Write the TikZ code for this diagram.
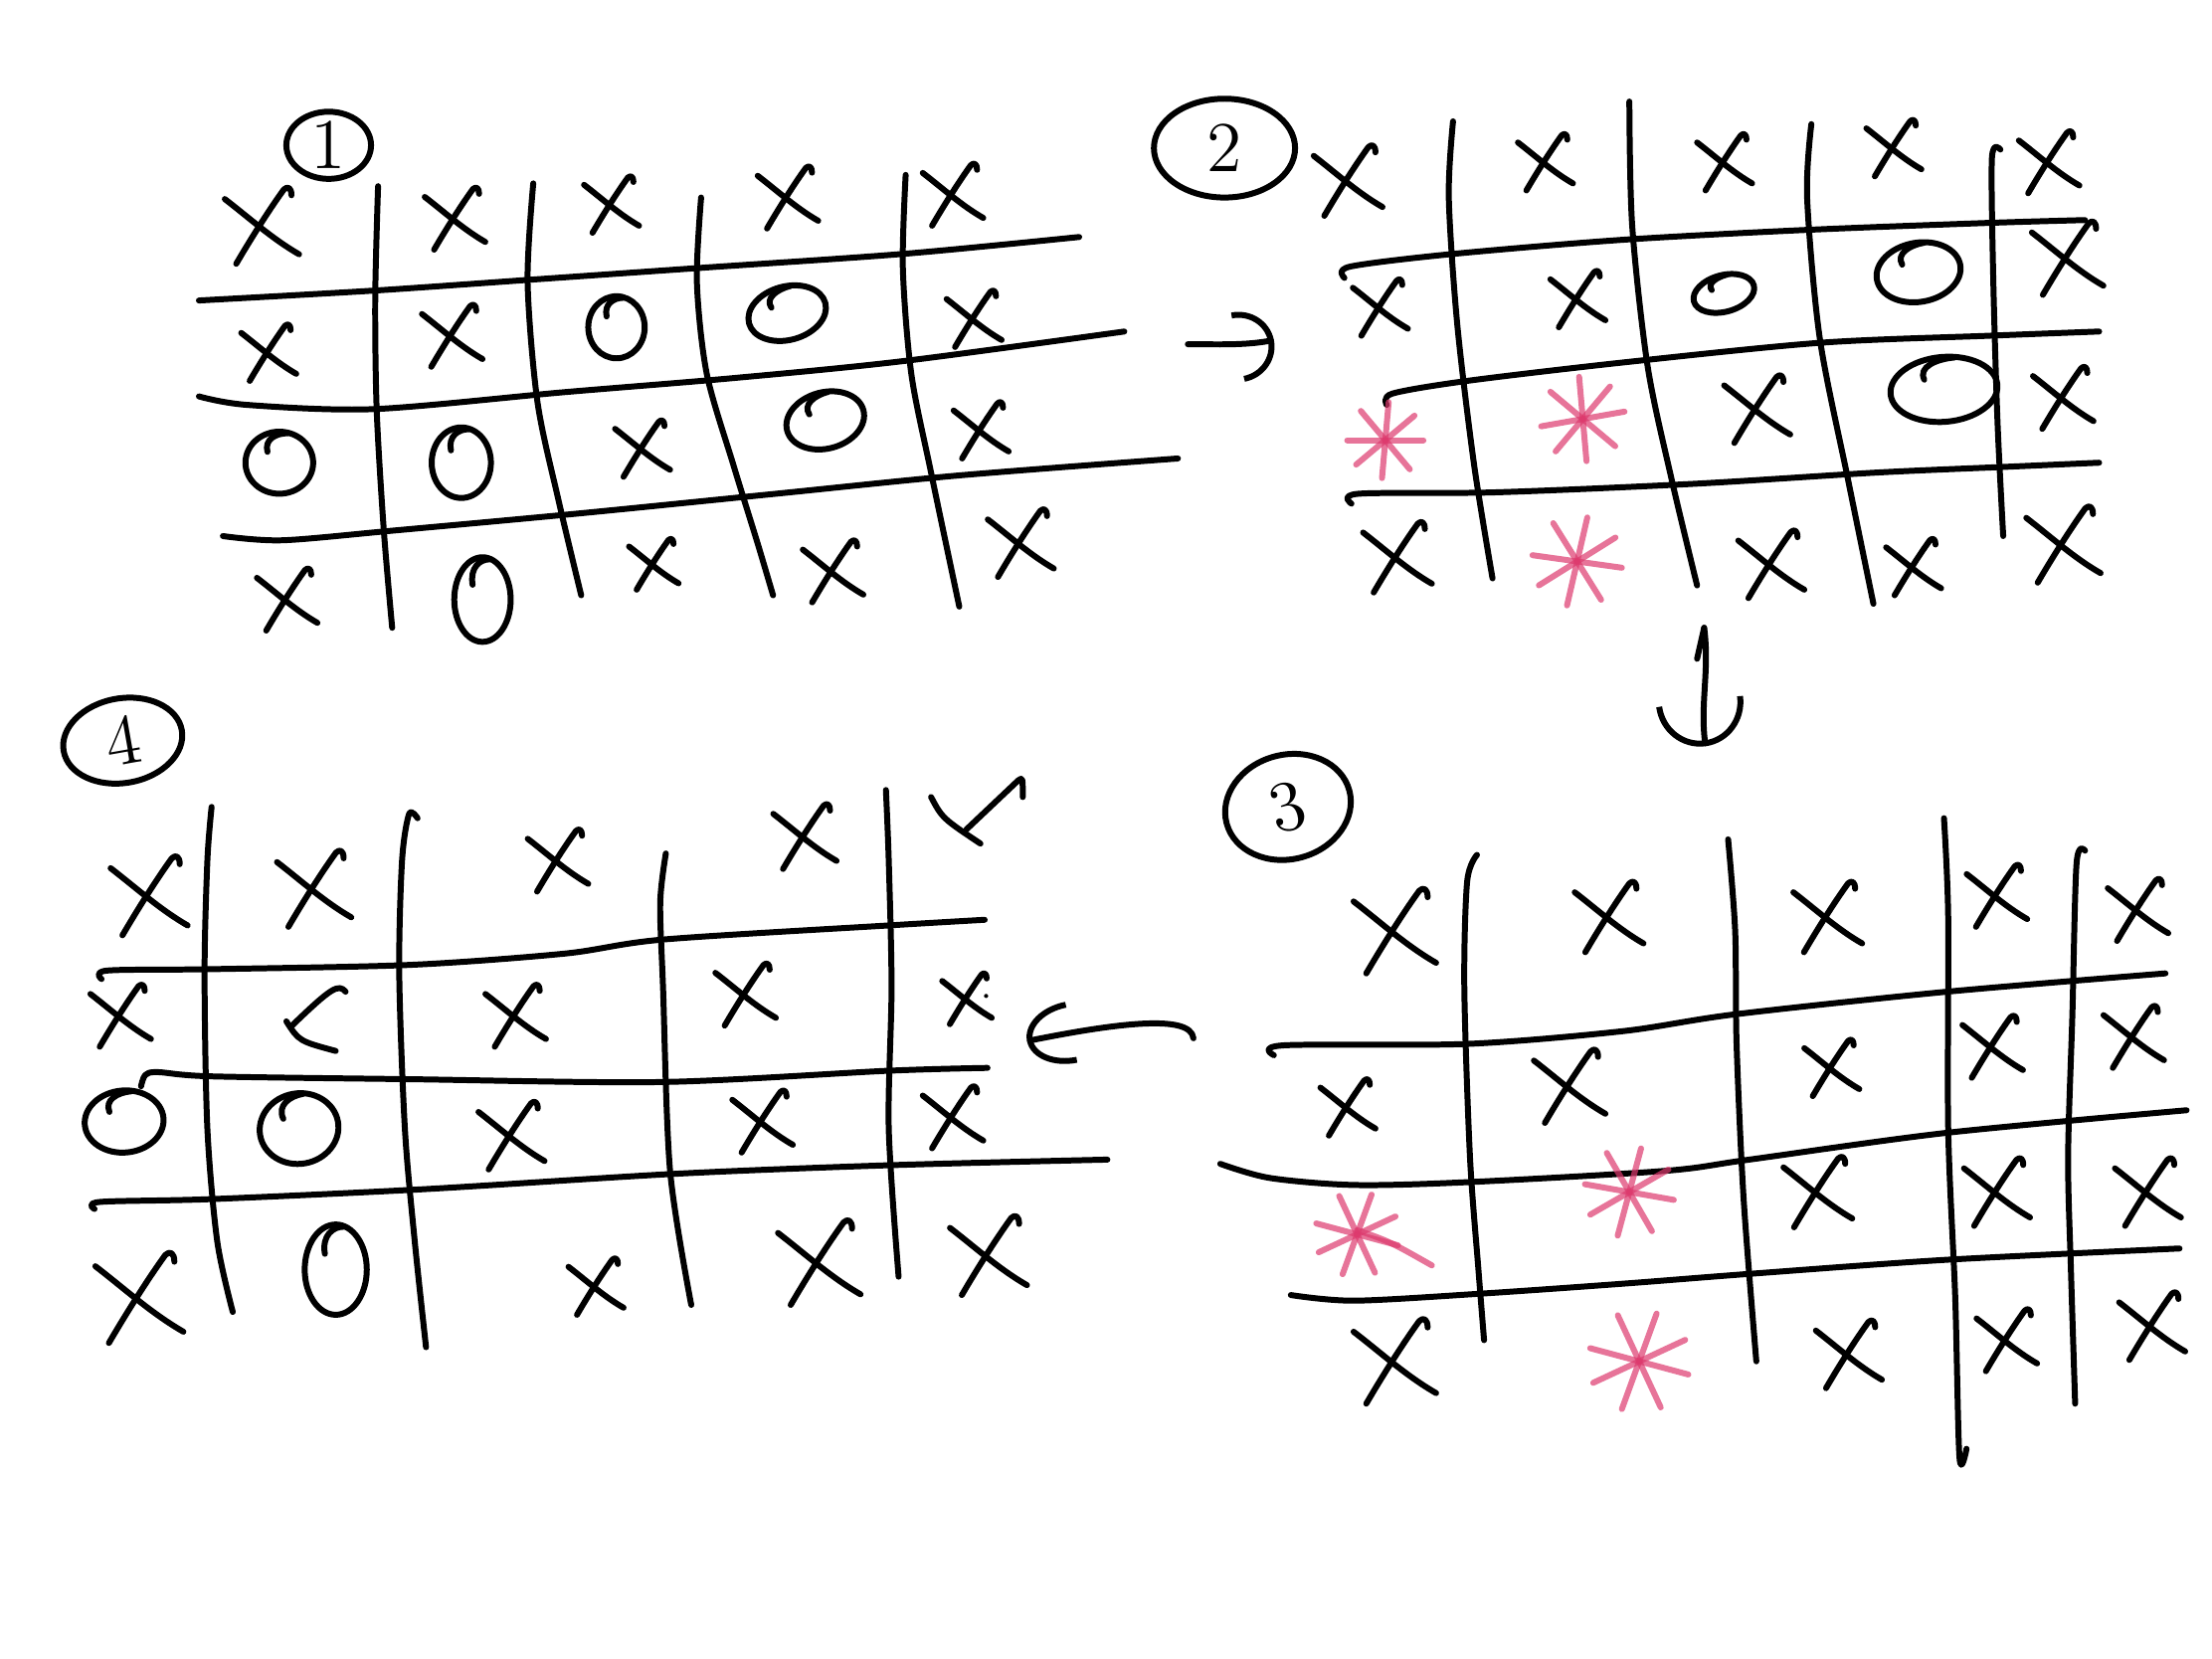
\documentclass[tikz,border=0pt]{standalone}
\usepackage{tikz}
\usetikzlibrary{arrows.meta, shapes.geometric}
\definecolor{inkpink}{RGB}{221,58,110}

\begin{document}
\begin{tikzpicture}[x=0.01cm, y=-0.01cm,
  pen/.style = {line width=1.2pt, line cap=round, line join=round},
  ink/.style = {pen, draw=inkpink, opacity=.7},
  tag/.style = {pen, draw, shape=ellipse, inner sep=0pt, font=\Large},
  xm/.pic = {
    \draw[pen] (-0.95,-0.7) .. controls (-0.3,-0.2) and (0.3,0.35) .. (1,0.75);
    \draw[pen] (-0.65,1) .. controls (-0.3,0.4) and (0.2,-0.4) .. (0.6,-0.95)
      .. controls (0.7,-1.05) and (0.8,-1) .. (0.8,-0.8);
  },
  om/.pic = {
    \draw[pen] (0,0) circle (1);
    \draw[pen] (-0.35,-0.35) .. controls (-0.45,-0.75) and (-0.1,-0.95) .. (0.25,-0.95);
  },
  ast/.pic = {
    \foreach \a in {0,50,95,140}
      \draw[ink] (\a:1) -- (\a+180:1);
  }]
  \fill[white] (0,0) rectangle (1568,1176);
  \useasboundingbox (0,0) rectangle (1568,1176);

  % board 1
  \node[tag, minimum width=0.6cm, minimum height=0.46cm] (t1) at (233,103) {1};
  \draw[pen] plot[smooth] coordinates {(141,213) (265,206) (380,198) (495,190) (640,180) (765,168)};
  \draw[pen] plot[smooth] coordinates {(141,281) (175,287) (265,290) (400,278) (520,268) (640,256) (797,235)};
  \draw[pen] plot[smooth] coordinates {(158,380) (200,383) (280,376) (410,364) (550,350) (680,337) (835,325)};
  \draw[pen] plot[smooth] coordinates {(268,132) (266,210) (267,290) (272,375) (278,445)};
  \draw[pen] plot[smooth] coordinates {(378,130) (374,200) (381,285) (396,355) (412,422)};
  \draw[pen] plot[smooth] coordinates {(497,140) (494,200) (501,265) (520,330) (537,385) (548,422)};
  \draw[pen] plot[smooth] coordinates {(642,124) (640,190) (646,265) (660,335) (680,430)};
  \pic[scale=27] at (185,160) {xm};
  \pic[scale=22] at (322,155) {xm};
  \pic[scale=20] at (433,145) {xm};
  \pic[scale=22] at (558,140) {xm};
  \pic[scale=22] at (675,138) {xm};
  \pic[scale=20] at (190,250) {xm};
  \pic[scale=22] at (320,238) {xm};
  \pic[xscale=20, yscale=22] at (437,232) {om};
  \pic[rotate=15, xscale=28, yscale=19] at (558,222) {om};
  \pic[scale=20] at (690,226) {xm};
  \pic[xscale=24, yscale=22] at (198,328) {om};
  \pic[xscale=21, yscale=25] at (327,328) {om};
  \pic[scale=20] at (455,318) {xm};
  \pic[rotate=15, xscale=28, yscale=20] at (585,298) {om};
  \pic[scale=20] at (695,305) {xm};
  \pic[scale=22] at (203,425) {xm};
  \pic[xscale=20, yscale=30] at (342,425) {om};
  \pic[scale=18] at (463,400) {xm};
  \pic[scale=22] at (590,405) {xm};
  \pic[scale=24] at (723,385) {xm};

  % board 2
  \node[tag, minimum width=1.0cm, minimum height=0.7cm] (t2) at (868,105) {2};
  \draw[pen] plot[smooth] coordinates {(953,197) (957,189) (1030,180) (1150,170) (1280,163) (1410,158) (1478,156)};
  \draw[pen] plot[smooth] coordinates {(983,287) (987,279) (1040,270) (1150,257) (1290,243) (1410,238) (1488,235)};
  \draw[pen] plot[smooth] coordinates {(958,357) (963,350) (1060,349) (1200,343) (1330,335) (1420,331) (1488,328)};
  \draw[pen] plot[smooth] coordinates {(1030,86) (1027,140) (1033,230) (1045,330) (1058,410)};
  \draw[pen] plot[smooth] coordinates {(1155,72) (1157,160) (1168,260) (1185,340) (1203,415)};
  \draw[pen] plot[smooth] coordinates {(1284,88) (1281,140) (1290,240) (1310,340) (1328,428)};
  \draw[pen] plot[smooth] coordinates {(1418,106) (1412,112) (1413,200) (1416,300) (1420,380)};
  \pic[scale=25] at (955,128) {xm};
  \pic[scale=20] at (1095,115) {xm};
  \pic[scale=20] at (1222,115) {xm};
  \pic[scale=20] at (1342,105) {xm};
  \pic[scale=22] at (1452,115) {xm};
  \pic[scale=20] at (978,218) {xm};
  \pic[scale=20] at (1118,212) {xm};
  \pic[rotate=15, xscale=22, yscale=13] at (1222,208) {om};
  \pic[rotate=10, xscale=30, yscale=21] at (1360,193) {om};
  \pic[scale=26] at (1465,183) {xm};
  \pic[scale=27] at (982,312) {ast};
  \pic[scale=30, rotate=10] at (1122,297) {ast};
  \pic[scale=24] at (1245,290) {xm};
  \pic[rotate=5, xscale=38, yscale=23] at (1378,276) {om};
  \pic[scale=22] at (1462,282) {xm};
  \pic[scale=25] at (990,395) {xm};
  \pic[scale=32, rotate=-8] at (1118,398) {ast};
  \pic[scale=24] at (1255,400) {xm};
  \pic[scale=20] at (1356,402) {xm};
  \pic[scale=27] at (1462,386) {xm};

  % board 3
  \node[tag, minimum width=0.9cm, minimum height=0.74cm, rotate=15] (t3) at (913,572) {3};
  \draw[pen] plot[smooth] coordinates {(903,748) (910,741) (1040,740) (1150,731) (1230,719) (1380,703) (1535,690)};
  \draw[pen] plot[smooth] coordinates {(865,825) (900,835) (960,840) (1040,838) (1180,830) (1240,822) (1380,803) (1550,787)};
  \draw[pen] plot[smooth] coordinates {(915,918) (960,922) (1050,917) (1150,910) (1240,903) (1380,893) (1545,885)};
  \draw[pen] plot[smooth] coordinates {(1047,606) (1040,625) (1038,700) (1042,820) (1048,900) (1052,950)};
  \draw[pen] plot[smooth] coordinates {(1225,595) (1230,660) (1231,740) (1236,850) (1245,965)};
  \draw[pen] plot[smooth] coordinates {(1378,580) (1381,650) (1381,800) (1386,920) (1389,1033) (1394,1027)};
  \draw[pen] plot[smooth] coordinates {(1478,603) (1472,612) (1469,720) (1466,820) (1468,900) (1471,995)};
  \pic[scale=30] at (988,660) {xm};
  \pic[scale=25] at (1140,650) {xm};
  \pic[scale=25] at (1295,650) {xm};
  \pic[scale=22] at (1415,635) {xm};
  \pic[scale=22] at (1515,645) {xm};
  \pic[scale=20] at (955,785) {xm};
  \pic[scale=26] at (1112,770) {xm};
  \pic[scale=20] at (1298,757) {xm};
  \pic[scale=22] at (1412,742) {xm};
  \pic[scale=22] at (1512,735) {xm};
  \pic[scale=30, rotate=-15] at (962,875) {ast};
  \draw[ink] (962,872) .. controls (985,880) .. (1015,897);
  \pic[scale=32, rotate=-10] at (1155,845) {ast};
  \pic[scale=25] at (1288,845) {xm};
  \pic[scale=24] at (1415,845) {xm};
  \pic[scale=24] at (1522,845) {xm};
  \pic[scale=30] at (988,965) {xm};
  \pic[scale=36, rotate=-15] at (1162,965) {ast};
  \pic[scale=24] at (1310,960) {xm};
  \pic[scale=22] at (1422,950) {xm};
  \pic[scale=24] at (1525,940) {xm};

  % board 4
  \node[tag, minimum width=0.85cm, minimum height=0.6cm, rotate=10] (t4) at (87,525) {4};
  \draw[pen] plot[smooth] coordinates {(72,694) (76,688) (150,687) (290,684) (400,676) (470,666) (630,656) (698,652)};
  \draw[pen] plot[smooth] coordinates {(100,770) (103,762) (112,760) (150,763) (290,765) (470,767) (630,759) (700,757)};
  \draw[pen] plot[smooth] coordinates {(67,857) (71,852) (150,850) (300,843) (480,832) (630,826) (785,822)};
  \draw[pen] plot[smooth] coordinates {(150,572) (147,610) (145,690) (147,800) (154,880) (165,930)};
  \draw[pen] plot[smooth] coordinates {(296,580) (290,577) (285,610) (283,690) (287,800) (294,880) (302,955)};
  \draw[pen] plot[smooth] coordinates {(472,605) (468,640) (470,700) (475,830) (490,925)};
  \draw[pen] plot[smooth] coordinates {(628,560) (630,610) (632,700) (630,800) (637,905)};
  \pic[scale=28] at (105,635) {xm};
  \pic[scale=27] at (222,630) {xm};
  \pic[scale=22] at (395,610) {xm};
  \pic[scale=23] at (570,593) {xm};
  \draw[pen] (660,565) .. controls (668,580) .. (695,598);
  \draw[pen] (685,588) -- (722,553) .. controls (725,551) .. (725,565);
  \pic[scale=22] at (85,720) {xm};
  \draw[pen] (245,703) .. controls (240,697) and (235,700) .. (207,727);
  \draw[pen] (203,724) .. controls (212,738) .. (238,745);
  \pic[scale=22] at (365,720) {xm};
  \pic[scale=22] at (528,705) {xm};
  \pic[scale=18] at (685,708) {xm};
  \fill (699,706) circle (1.5);
  \pic[rotate=5, xscale=28, yscale=22] at (88,795) {om};
  \pic[rotate=10, xscale=28, yscale=25] at (212,800) {om};
  \pic[scale=24] at (362,805) {xm};
  \pic[scale=22] at (540,795) {xm};
  \pic[scale=22] at (675,792) {xm};
  \pic[scale=32] at (98,920) {xm};
  \pic[xscale=22, yscale=32] at (238,900) {om};
  \pic[scale=20] at (422,912) {xm};
  \pic[scale=30] at (580,895) {xm};
  \pic[scale=28] at (700,890) {xm};

  % moves between boards
  \coordinate (m1a) at (842,244);
  \coordinate (m1b) at (903,241);
  \coordinate (m2a) at (1208,445);
  \coordinate (m2b) at (1209,529);
  \coordinate (m3a) at (846,736);
  \coordinate (m3b) at (728,738);
  \draw[pen, -{Arc Barb[length=2.6mm, width=5mm]}] (m1a) .. controls +(20,0) and +(-20,4) .. (m1b);
  \draw[pen, -{Arc Barb[length=3.2mm, width=6.2mm]}] (m2a) .. controls +(4,30) and +(-4,-30) .. (m2b);
  \draw[pen] (m2a) -- ++(-5,22);
  \draw[pen, -{Arc Barb[length=3.2mm, width=4.4mm]}] (m3a) .. controls +(-2,-18) and +(60,-12) .. (m3b);
\end{tikzpicture}
\end{document}
